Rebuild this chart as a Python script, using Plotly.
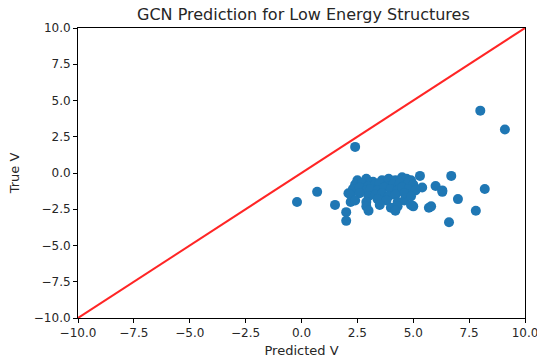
import plotly.graph_objects as go

pred_outliers = [-0.2, 0.7, 1.5, 2.4, 2.0, 2.0, 2.2, 2.1, 8.0, 9.1, 6.7, 8.2, 7.0, 7.8, 6.6, 6.3, 6.0, 6.3, 5.4, 5.7, 5.8, 5.3, 5.0, 4.6]
true_outliers = [-2.0, -1.3, -2.2, 1.8, -2.7, -3.3, -2.0, -1.4, 4.3, 3.0, -0.2, -1.1, -1.8, -2.6, -3.4, -1.3, -0.9, -1.2, -1.0, -2.4, -2.3, -0.2, -2.3, -1.9]

pred_cluster = [2.5, 2.9, 3.2, 3.6, 3.9, 4.2, 4.5, 4.7, 4.9,
                2.4, 2.7, 3.0, 3.3, 3.5, 3.8, 4.1, 4.4, 4.6, 4.8, 5.0,
                2.3, 2.6, 2.9, 3.1, 3.4, 3.7, 4.0, 4.3, 4.5, 4.8, 5.1,
                2.2, 2.6, 3.0, 3.3, 3.6, 3.9, 4.2, 4.6, 4.9,
                2.4, 2.9, 3.4, 3.8, 4.3,
                2.9, 3.5, 4.0, 4.3, 4.9,
                3.0, 4.2]
true_cluster = [-0.5, -0.4, -0.6, -0.5, -0.4, -0.5, -0.3, -0.4, -0.5,
                -0.8, -0.7, -0.9, -0.8, -0.7, -0.9, -0.8, -0.7, -0.9, -0.6, -0.8,
                -1.1, -1.0, -1.2, -1.1, -1.2, -1.0, -1.1, -1.2, -1.0, -1.1, -1.2,
                -1.5, -1.4, -1.6, -1.5, -1.4, -1.6, -1.5, -1.4, -1.6,
                -1.9, -2.0, -1.8, -1.9, -2.0,
                -2.3, -2.2, -2.4, -2.3, -2.2,
                -2.6, -2.6]

pred_v = pred_outliers + pred_cluster
true_v = true_outliers + true_cluster

line_x = [-10, 10]
line_y = [-10, 10]

tick_vals = [-10, -7.5, -5, -2.5, 0, 2.5, 5, 7.5, 10]
tick_text = ["\u221210.0", "\u22127.5", "\u22125.0", "\u22122.5", "0.0", "2.5", "5.0", "7.5", "10.0"]

fig = go.Figure()
fig.add_trace(go.Scatter(x=pred_v, y=true_v, mode="markers",
                         marker=dict(color="#1f77b4", size=10, line=dict(width=0)),
                         showlegend=False))
fig.add_trace(go.Scatter(x=line_x, y=line_y, mode="lines",
                         line=dict(color="red", width=2), opacity=0.85,
                         showlegend=False))

axis_common = dict(range=[-10, 10], tickmode="array", tickvals=tick_vals, ticktext=tick_text,
                   showgrid=False, zeroline=False, showline=True, mirror=True,
                   linecolor="black", linewidth=1, ticks="outside", ticklen=4,
                   ticklabeloverflow="allow", automargin=False,
                   tickcolor="black", tickfont=dict(family="DejaVu Sans", size=12, color="#262626"))

fig.update_layout(
    width=537, height=358,
    margin=dict(l=78, r=12, t=28, b=40),
    paper_bgcolor="white", plot_bgcolor="white",
    title=dict(text="GCN Prediction for Low Energy Structures", x=0.565, xanchor="center",
               y=0.96, yanchor="middle",
               font=dict(family="DejaVu Sans", size=16, color="#262626")),
    xaxis=dict(**axis_common, title=dict(text="Predicted V", standoff=6,
               font=dict(family="DejaVu Sans", size=13, color="#262626"))),
    yaxis=dict(**axis_common, title=dict(text="True V", standoff=11,
               font=dict(family="DejaVu Sans", size=13, color="#262626"))),
)

fig.write_html("out.html")
